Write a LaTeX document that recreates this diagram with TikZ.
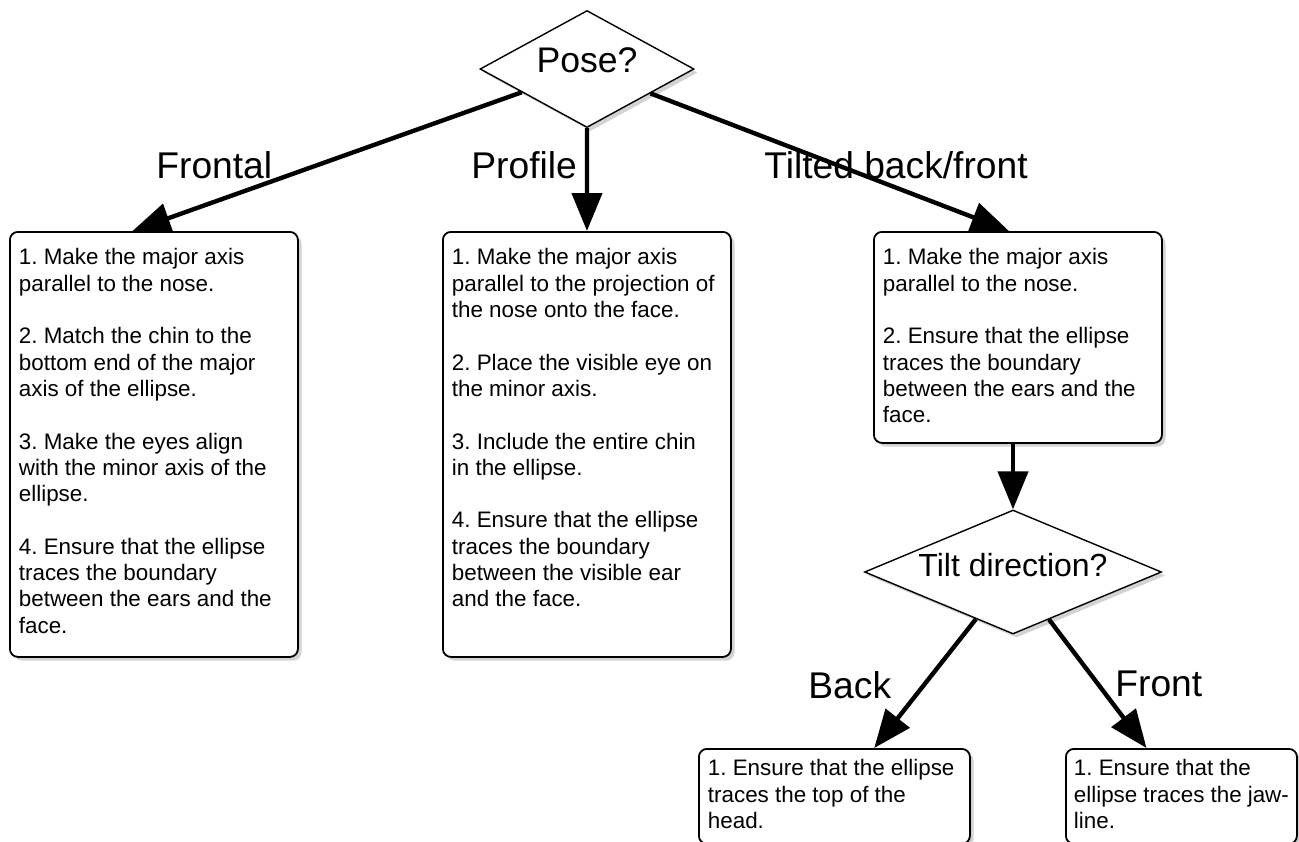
\documentclass[tikz,border=0pt]{standalone}
\usepackage{fontspec}
\setmainfont{Liberation Sans}
\frenchspacing
\usetikzlibrary{shapes.geometric,arrows.meta,shadows,calc}

\tikzset{
    advice/.style={draw, line width=0.9pt, rounded corners=4pt, fill=white, anchor=north west,
        inner xsep=4.5pt, inner ysep=8.4pt, font=\fontsize{11.2}{13.15}\selectfont,
        drop shadow={shadow xshift=1.8pt, shadow yshift=-1.8pt, opacity=0.35}},
    question/.style={draw, shape=diamond, line width=0.7pt, fill=white, inner sep=0pt,
        drop shadow={shadow xshift=1.8pt, shadow yshift=-1.8pt, opacity=0.35}},
    branch/.style={-{Triangle[length=19pt,width=15pt]}, line width=2.2pt},
    answer/.style={anchor=base west, inner sep=0pt, font=\fontsize{18.6}{20}\selectfont},
}

\begin{document}
\begin{tikzpicture}[x=0.5pt, y=-0.5pt]
    \useasboundingbox (0,0) rectangle (1299,841);
    % questions
    \node[question, aspect=1.81, minimum width=107pt, minimum height=58.5pt, font=\fontsize{17.8}{20}\selectfont,
        text height=13pt, text depth=10pt] (pose) at (587,69) {Pose?};
    \node[question, aspect=2.4, minimum width=148.5pt, minimum height=62pt, font=\fontsize{16}{18}\selectfont,
        text height=11.5pt, text depth=7.5pt] (tilt) at (1013,572) {Tilt direction?};
    % advice boxes
    \node[advice] (frontal) at (9,231) {\parbox[t][195.7pt][t]{135pt}{\raggedright
        1. Make the major axis\\ parallel to the nose.\\[13.15pt]
        2. Match the chin to the\\ bottom end of the major\\ axis of the ellipse.\\[13.15pt]
        3. Make the eyes align\\ with the minor axis of the\\ ellipse.\\[13.15pt]
        4. Ensure that the ellipse\\ traces the boundary\\ between the ears and the\\ face.}};
    \node[advice] (profile) at (442,231) {\parbox[t][195.7pt][t]{135pt}{\raggedright
        1. Make the major axis\\ parallel to the projection of\\ the nose onto the face.\\[13.15pt]
        2. Place the visible eye on\\ the minor axis.\\[13.15pt]
        3. Include the entire chin\\ in the ellipse.\\[13.15pt]
        4. Ensure that the ellipse\\ traces the boundary\\ between the visible ear\\ and the face.}};
    \node[advice] (tilted) at (873,231) {\parbox[t][88.7pt][t]{135pt}{\raggedright
        1. Make the major axis\\ parallel to the nose.\\[13.15pt]
        2. Ensure that the ellipse\\ traces the boundary\\ between the ears and the\\ face.}};
    \node[advice, inner ysep=5.4pt] (back) at (698,748) {\parbox[t][36.7pt][t]{126.5pt}{\raggedright
        1. Ensure that the ellipse\\ traces the top of the\\ head.}};
    \node[advice, inner xsep=4pt, inner ysep=5.4pt] (front) at (1065,748) {\parbox[t][36.7pt][t]{107.5pt}{\raggedright
        1. Ensure that the\\ ellipse traces the jaw-\\ line.}};
    % branches
    \draw[branch] (pose) -- ($(frontal.north west)!.426!(frontal.north east)$);
    \draw[branch] (pose) -- (profile);
    \draw[branch] (pose) -- ($(tilted.north west)!.469!(tilted.north east)$);
    \draw[branch] (tilted.south -| tilt.north) -- (tilt.north);
    \draw[branch] (tilt) -- ($(back.north west)!.646!(back.north east)$);
    \draw[branch] (tilt) -- ($(front.north west)!.35!(front.north east)$);
    % branch labels
    \node[answer] (lfrontal) at (156,178) {Frontal};
    \node[answer] (lprofile) at (471,178) {Profile};
    \node[answer] (ltilted) at (764,178) {Tilted back/front};
    \node[answer] (lback) at (808,698) {Back};
    \node[answer] (lfront) at (1115,696) {Front};
\end{tikzpicture}
\end{document}
